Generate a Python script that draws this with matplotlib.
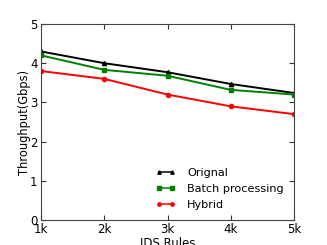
import matplotlib
matplotlib.use("Agg")
import matplotlib.pyplot as plt

rules = ["1k", "2k", "3k", "4k", "5k"]
x = [1, 2, 3, 4, 5]
original = [4.30, 4.00, 3.77, 3.47, 3.24]
batch = [4.20, 3.83, 3.68, 3.32, 3.20]
hybrid = [3.80, 3.60, 3.20, 2.90, 2.70]

fig = plt.figure(figsize=(3.27, 2.45), dpi=100)
ax = fig.add_axes([41/327, 25/245, 253/327, 196/245])
kw = dict(markersize=3, linewidth=1.4)
ax.plot(x, original, color="black", marker="^", label="Orignal", **kw)
ax.plot(x, batch, color="green", marker="s", label="Batch processing", **kw)
ax.plot(x, hybrid, color="red", marker="o", label="Hybrid", **kw)
ax.set_xlim(1, 5)
ax.set_ylim(0, 5)
ax.set_xticks(x)
ax.set_xticklabels(rules)
ax.set_yticks([0, 1, 2, 3, 4, 5])
ax.tick_params(direction="in", top=True, right=True, labelsize=8.5, pad=2.5,
               length=3.5, color="#333333")
for s in ax.spines.values():
    s.set_color("#444444")
ax.set_xlabel("IDS Rules", fontsize=8.5, labelpad=0.5)
ax.set_ylabel("Throughput(Gbps)", fontsize=8.3, labelpad=-1)
leg = ax.legend(loc="lower right", frameon=False, fontsize=8.1, handlelength=1.75,
                handletextpad=1.05, labelspacing=0.55, numpoints=2, borderaxespad=0.5,
                markerscale=0.8)
for h in leg.legend_handles:
    h.set_linewidth(1.1)
fig.savefig("out.png", dpi=100)
